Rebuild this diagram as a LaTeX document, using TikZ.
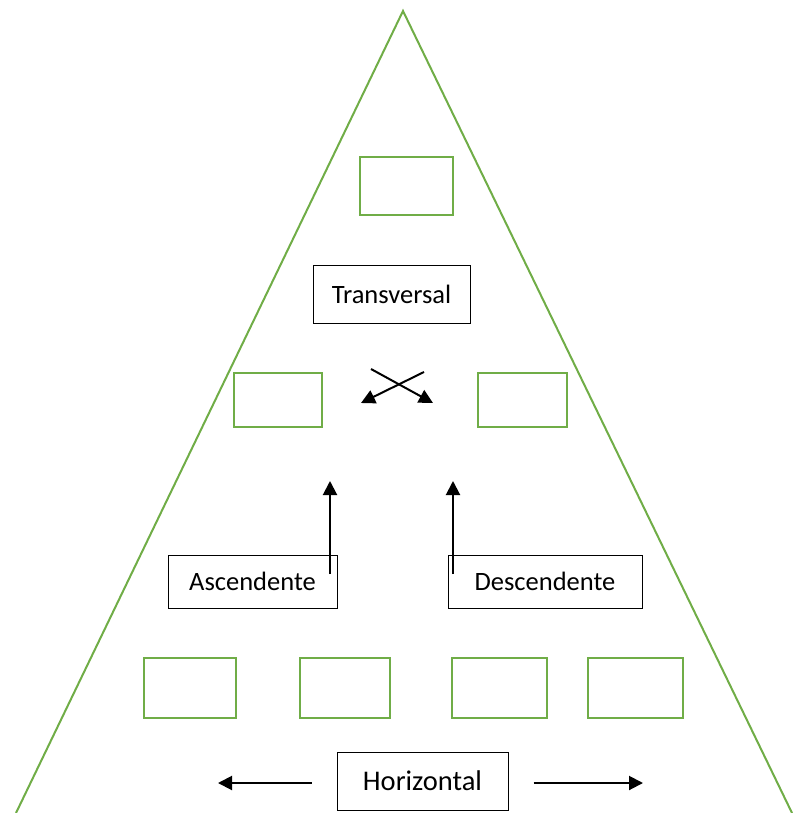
\documentclass[tikz,border=0pt]{standalone}
\usepackage{fontspec}
\setmainfont{Carlito}
\usepackage{xcolor}
\usepackage{tikz}
\usetikzlibrary{arrows.meta}
\definecolor{verde}{RGB}{112,173,71}

\begin{document}
\begin{tikzpicture}[
    x=1pt, y=-1pt,
    nivel/.style={draw=verde, line width=2pt, minimum width=92pt, minimum height=58pt},
    rotulo/.style={draw, line width=1pt, align=center, minimum height=55pt,
        font=\fontsize{26.5}{30}\selectfont},
    seta/.style={-{Triangle[length=14pt, width=14pt]}, line width=2pt},
    lado/.style={draw=verde, line width=2pt}
]
    \useasboundingbox (0,0) rectangle (793,813);

    % piramide
    \coordinate (baseesq) at (16,813);
    \coordinate (apice) at (403,11);
    \coordinate (basedir) at (792,813);
    \draw[lado] (baseesq) -- (apice) -- (basedir);

    % niveis
    \node[nivel, minimum width=93pt] (topo) at (406.5,186) {};
    \node[nivel, minimum width=88pt, minimum height=54pt] (meioesq) at (278,400) {};
    \node[nivel, minimum width=89pt, minimum height=54pt] (meiodir) at (522.5,400) {};
    \node[nivel, minimum height=60pt] (base1) at (190,688) {};
    \node[nivel, minimum width=90pt, minimum height=60pt] (base2) at (345,688) {};
    \node[nivel, minimum width=95pt, minimum height=60pt] (base3) at (499.5,688) {};
    \node[nivel, minimum width=95pt, minimum height=60pt] (base4) at (635.5,688) {};

    % rotulos
    \node[rotulo, minimum width=157pt, minimum height=58pt] (transv) at (391.5,294) {Transversal};
    \node[rotulo, minimum width=169pt, minimum height=53pt] (asc) at (252.5,581.5) {Ascendente};
    \node[rotulo, minimum width=194pt, minimum height=53pt] (desc) at (545,581.5) {Descendente};
    \node[rotulo, minimum width=171pt, minimum height=58pt,
        font=\fontsize{28.5}{32}\selectfont] (horiz) at (422.5,781) {Horizontal};

    % setas
    \coordinate (ascpe) at (330,574);
    \coordinate (ascponta) at (330,481);
    \coordinate (descpe) at (453,574);
    \coordinate (descponta) at (453,481);
    \coordinate (cruz1a) at (371,369);
    \coordinate (cruz1b) at (433,403);
    \coordinate (cruz2a) at (424,372);
    \coordinate (cruz2b) at (361,403);
    \coordinate (horizesq) at (218,783);
    \coordinate (horizdir) at (643,783);

    \draw[seta] (ascpe) -- (ascponta);
    \draw[seta] (descpe) -- (descponta);
    \draw[seta] (cruz1a) -- (cruz1b);
    \draw[seta] (cruz2a) -- (cruz2b);
    \draw[seta] ([xshift=-25pt]horiz.west |- horizesq) -- (horizesq);
    \draw[seta] ([xshift=25pt]horiz.east |- horizdir) -- (horizdir);
\end{tikzpicture}
\end{document}
